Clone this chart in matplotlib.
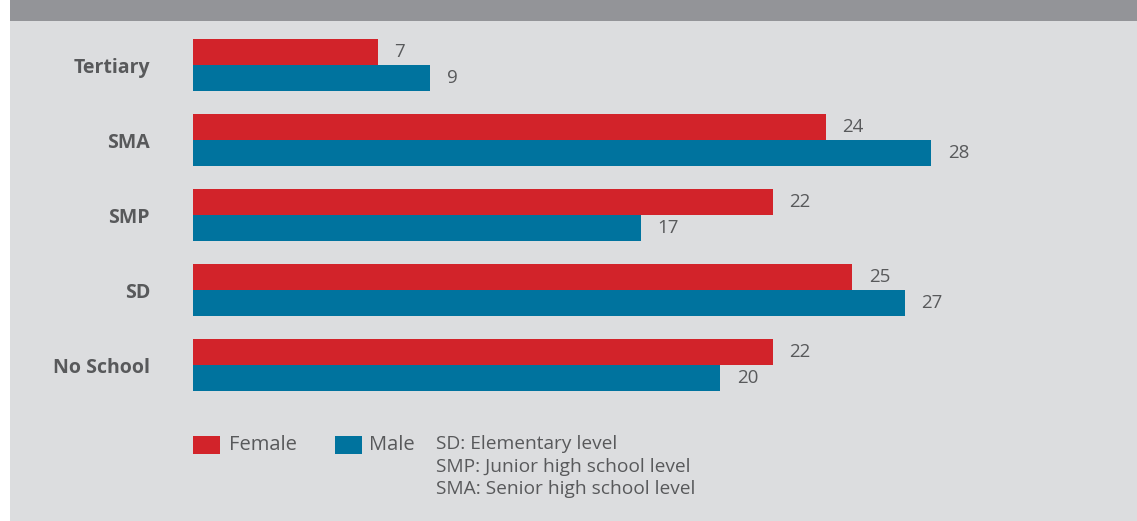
import matplotlib
matplotlib.use("Agg")
import matplotlib.pyplot as plt
from matplotlib.patches import Rectangle

categories = ["Tertiary", "SMA", "SMP", "SD", "No School"]
female = [7, 24, 22, 25, 22]
male = [9, 28, 17, 27, 20]
series_names = ["Female", "Male"]
notes = ["SD: Elementary level", "SMP: Junior high school level", "SMA: Senior high school level"]

RED = "#D2232A"
BLUE = "#00739E"
BG = "#DCDDDF"
BANNER = "#939498"
TXT = "#58595B"

plt.rcParams['font.family'] = ['Open Sans', 'DejaVu Sans']

W, H = 1137, 521
fig = plt.figure(figsize=(W / 100, H / 100), dpi=100)
fig.patch.set_facecolor("white")
fig.patches.append(Rectangle((10 / W, 0), 1 - 10 / W, 1, transform=fig.transFigure,
                             facecolor=BG, edgecolor="none", zorder=-2))
fig.patches.append(Rectangle((10 / W, 1 - 21 / H), 1 - 10 / W, 21 / H, transform=fig.transFigure,
                             facecolor=BANNER, edgecolor="none", zorder=-1))

left = 193 / W
xmax = 35
ax_w = xmax * 26.36 / W
top_px, bot_px = 31.5, 399.0
ax = fig.add_axes([left, 1 - bot_px / H, ax_w, (bot_px - top_px) / H])
ax.set_facecolor("none")
for s in ax.spines.values():
    s.set_visible(False)

n = len(categories)
pos = list(range(n))
h = 0.347
fb = ax.barh([p - h / 2 for p in pos], female, height=h, color=RED)
mb = ax.barh([p + h / 2 for p in pos], male, height=h, color=BLUE)
ax.set_xlim(0, xmax)
ax.set_ylim(n - 1 + 0.45, -0.45)
ax.set_xticks([])
ax.set_yticks(pos)
ax.set_yticklabels(categories, fontsize=14, fontweight="bold", color=TXT)
ax.tick_params(axis="y", length=0, pad=31)

for bars in (fb, mb):
    ax.bar_label(bars, padding=12, fontsize=13.5, color=TXT)

def fx(px):
    return px / W
def fy(py):
    return 1 - py / H

for (x0, col, name, tx) in [(193, RED, series_names[0], 229), (335, BLUE, series_names[1], 369)]:
    fig.patches.append(Rectangle((fx(x0), fy(454)), 27 / W, 18 / H, transform=fig.transFigure,
                                 facecolor=col, edgecolor="none"))
    fig.text(fx(tx), fy(445), name, fontsize=14.5, color=TXT, va="center", ha="left")

for i, line in enumerate(notes):
    fig.text(fx(436), fy(444 + i * 22.5), line, fontsize=13.8, color=TXT, va="center", ha="left")

fig.savefig("out.png", dpi=100, facecolor=fig.get_facecolor())
